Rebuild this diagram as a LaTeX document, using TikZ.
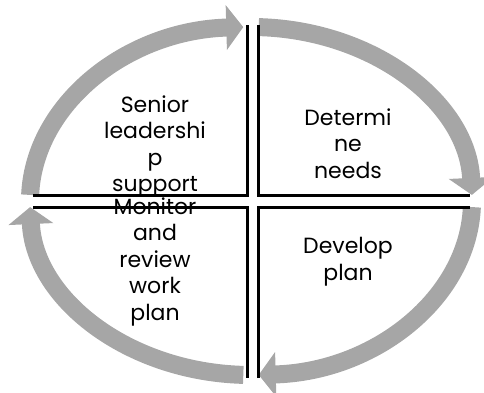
\documentclass[tikz,border=0pt]{standalone}
\usepackage{fontspec}
\setmainfont{Poppins}
\usetikzlibrary{arrows.meta,calc}
\definecolor{cyclegray}{HTML}{A6A6A6}
% one gray arc of the cycle, from angle #1 to angle #2
\newcommand*{\Cyc}[2]{\draw[cycarrow] ($(ctr)+(#1:221pt and 174pt)$) arc (#1:#2:221pt and 174pt);}
% one corner of the cross
\newcommand*{\Corner}[3]{\draw[quadline] (#1) -- (#2) -- (#3);}

\begin{document}
\begin{tikzpicture}[x=1pt,y=1pt]
\tikzstyle{cycarrow}=[draw=cyclegray,line width=18pt,-{Triangle[length=17pt,width=44pt]}]
\tikzstyle{quadline}=[line width=3pt]
\tikzstyle{quadtext}=[font=\fontsize{22pt}{26.5pt}\selectfont,align=center,anchor=north,inner sep=0pt]
\useasboundingbox (0,0) rectangle (484,392);
\coordinate (ctr) at (251,191);
\Cyc{178}{92}
\Cyc{88}{2}
\Cyc{-2}{-88}
\Cyc{-92}{-178}
\Corner{33,197}{247,197}{247,367}
\Corner{258,367}{258,197}{470,197}
\Corner{33,185}{247,185}{247,14}
\Corner{258,14}{258,185}{470,185}
\node[quadtext] (support) at (155,296.5) {Senior\\leadershi\\p\\support};
\node[quadtext] (needs) at (348,283.5) {Determi\\ne\\needs};
\node[quadtext] (develop) at (348,154.5) {Develop\\plan};
\node[quadtext] (monitor) at (155,194.5) {Monitor\\and\\review\\work\\plan};
\end{tikzpicture}
\end{document}
